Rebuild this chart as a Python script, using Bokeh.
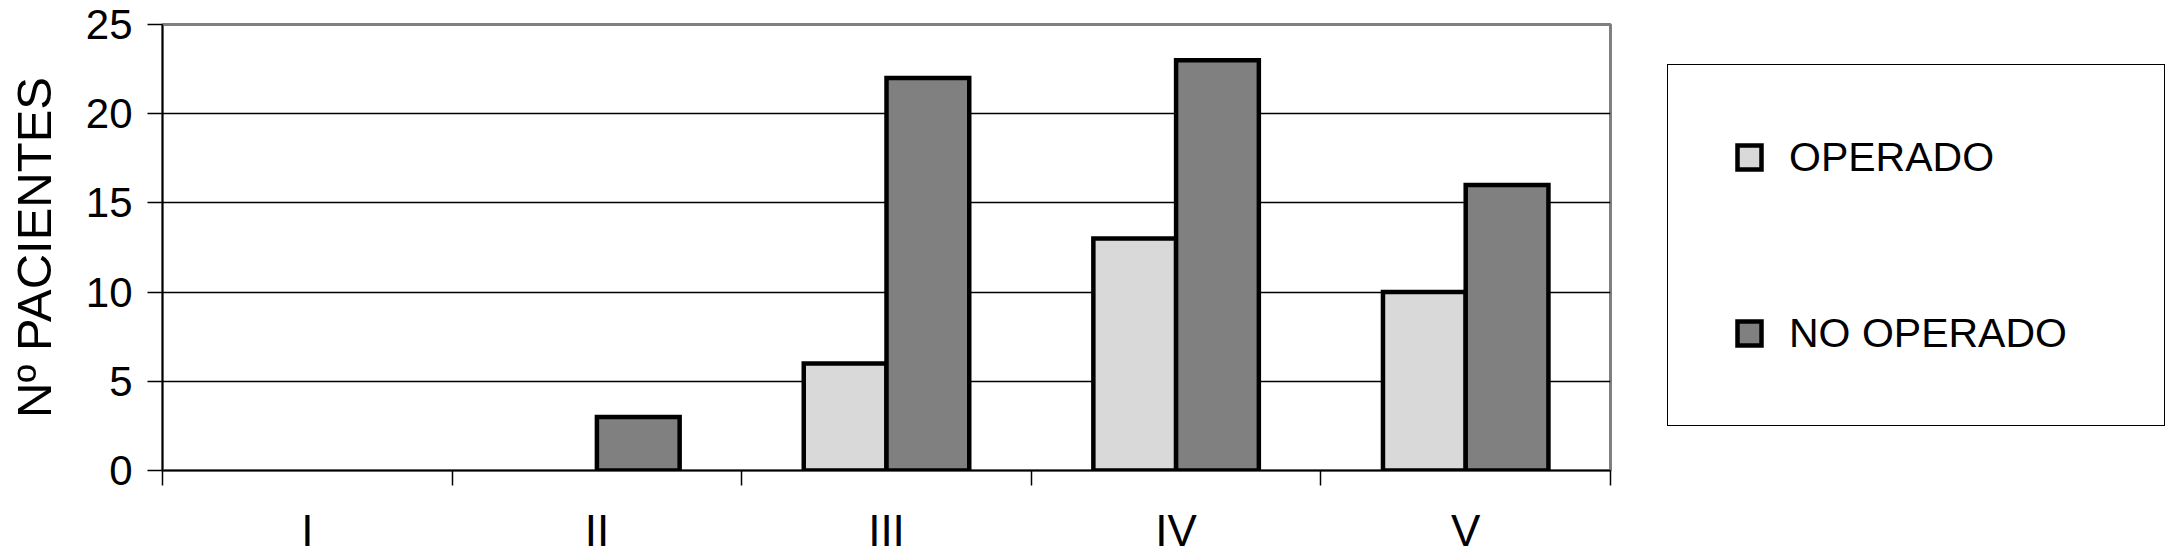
import numpy as np
from bokeh.plotting import figure
from bokeh.models import FixedTicker, Legend, LegendItem, Range1d, ColumnDataSource
from bokeh.embed import file_html
from bokeh.resources import INLINE

categories = ["I", "II", "III", "IV", "V"]
operado = [0, 0, 6, 13, 10]
no_operado = [0, 3, 22, 23, 16]
y_ticks = [0, 5, 10, 15, 20, 25]
series_names = ["OPERADO", "NO OPERADO"]
series_colors = ["#d9d9d9", "#808080"]
y_label = "Nº PACIENTES"

FONT = "Liberation Sans"

n = len(categories)
centers = np.arange(n) + 0.5
bar_w = 1 / 3.5

p = figure(frame_width=1448, frame_height=446,
           min_border_left=162, min_border_top=24, min_border_bottom=80, min_border_right=549,
           x_range=Range1d(0, n), y_range=Range1d(0, 25),
           output_backend="svg", toolbar_location=None, tools="")
p.background_fill_color = "white"
p.border_fill_color = "white"
p.outline_line_color = "#808080"
p.outline_line_width = 3

renderers = []
for k, (vals, color) in enumerate(zip([operado, no_operado], series_colors)):
    vals = np.array(vals, dtype=float)
    src = ColumnDataSource(dict(
        x=centers + (k - 0.5) * bar_w,
        top=vals,
        la=np.where(vals > 0, 1.0, 0.0),
    ))
    r = p.vbar(x="x", top="top", bottom=0, width=bar_w, source=src,
               fill_color=color, line_color="black", line_width=4.5, line_alpha="la",
               line_join="miter")
    renderers.append(r)

# x axis: labels at category centres, tick marks at category boundaries
p.xaxis.ticker = FixedTicker(ticks=list(centers), minor_ticks=list(range(n + 1)))
p.xaxis.major_label_overrides = {float(c): cat for c, cat in zip(centers, categories)}
p.xaxis.major_tick_in = 0
p.xaxis.major_tick_out = 0
p.xaxis.minor_tick_in = 0
p.xaxis.minor_tick_out = 15
p.xaxis.minor_tick_line_color = "black"
p.xaxis.minor_tick_line_width = 1.5
p.xaxis.axis_line_color = "black"
p.xaxis.axis_line_width = 1.5
p.xaxis.major_label_text_font = FONT
p.xaxis.major_label_text_font_size = "44px"
p.xaxis.major_label_text_color = "black"
p.xaxis.major_label_standoff = 20

# y axis
p.yaxis.ticker = FixedTicker(ticks=y_ticks)
p.yaxis.major_tick_in = 0
p.yaxis.major_tick_out = 15
p.yaxis.major_tick_line_color = "black"
p.yaxis.major_tick_line_width = 1.5
p.yaxis.minor_tick_line_color = None
p.yaxis.axis_line_color = "black"
p.yaxis.axis_line_width = 1.5
p.yaxis.major_label_text_font = FONT
p.yaxis.major_label_text_font_size = "42px"
p.yaxis.major_label_text_color = "black"
p.yaxis.major_label_standoff = 15
p.yaxis.axis_label = y_label
p.yaxis.axis_label_text_font = FONT
p.yaxis.axis_label_text_font_size = "49px"
p.yaxis.axis_label_text_font_style = "normal"
p.yaxis.axis_label_text_color = "black"
p.yaxis.axis_label_standoff = 22

p.xgrid.visible = False
p.ygrid.ticker = FixedTicker(ticks=y_ticks)
p.ygrid.grid_line_color = "black"
p.ygrid.grid_line_width = 1.3

legend = Legend(
    items=[LegendItem(label=name, renderers=[r], index=2)
           for name, r in zip(series_names, renderers)],
    location=(57, 44),
    orientation="vertical",
    label_text_font=FONT,
    label_text_font_size="41px",
    label_text_color="black",
    glyph_width=30, glyph_height=30,
    label_height=52, label_width=309, label_standoff=25,
    spacing=124, padding=66, margin=0,
    border_line_color="black", border_line_width=1.5, border_line_alpha=1.0,
    background_fill_color="white", background_fill_alpha=1.0,
)
p.add_layout(legend, "right")

open("out.html", "w").write(file_html(p, INLINE))
